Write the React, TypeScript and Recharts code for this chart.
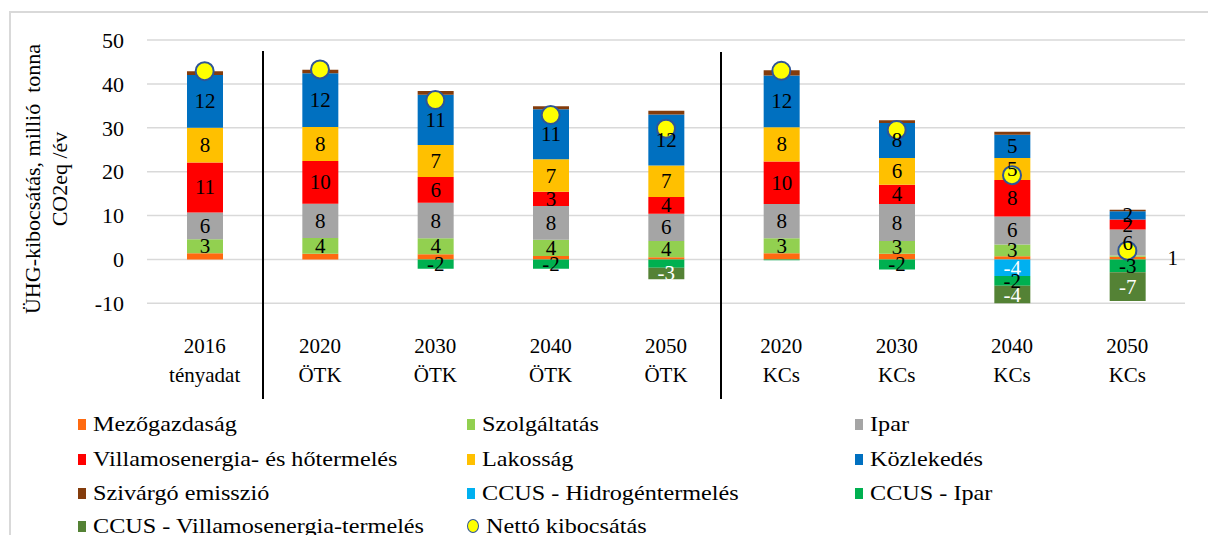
import {
    ComposedChart,
    Bar,
    Line,
    XAxis,
    YAxis,
    CartesianGrid,
    LabelList,
} from 'recharts';

const years = ['2016', '2020', '2030', '2040', '2050', '2020', '2030', '2040', '2050'];
const scenarios = ['tényadat', 'ÖTK', 'ÖTK', 'ÖTK', 'ÖTK', 'KCs', 'KCs', 'KCs', 'KCs'];

const mezogazdasag = [1.4, 1.3, 1.2, 0.8, 0.5, 1.4, 1.3, 0.7, 0.6];
const szolgaltatas = [3.2, 3.6, 3.6, 3.7, 3.7, 3.4, 2.9, 2.7, 0.3];
const ipar = [6.1, 7.8, 8.1, 7.7, 6.2, 7.8, 8.4, 6.4, 5.9];
const villamos = [11.4, 9.7, 5.9, 3.2, 3.8, 9.7, 4.4, 8.3, 2.3];
const lakossag = [7.9, 7.8, 7.3, 7.4, 7.2, 7.8, 6.1, 5.0, 0];
const kozlekedes = [12.0, 12.2, 11.4, 11.4, 11.6, 11.8, 8.0, 5.3, 1.9];
const szivargo = [0.9, 0.8, 0.9, 0.7, 0.9, 1.2, 0.6, 0.7, 0.3];
const ccusHidrogen = [0, 0, 0, 0, 0, 0, 0, -3.8, 0];
const ccusIpar = [0, 0, -2.1, -2.1, -1.9, -0.2, -2.3, -2.2, -2.9];
const ccusVillamos = [0, 0, 0, 0, -2.6, 0, 0, -4.0, -6.6];
const netto = [42.9, 43.3, 36.3, 32.9, 29.8, 43.0, 29.5, 19.2, 2.0];

const yTicks = [-10, 0, 10, 20, 30, 40, 50];

// labels Excel didn't show / moved beside the bar
const hiddenLabels: Record<string, number[]> = { ccusIpar: [4] };
const outsideLabels: Record<string, number[]> = { mezogazdasag: [8] };

const series = [
    { key: 'mezogazdasag', name: 'Mezőgazdaság', color: '#FF6A10', text: '#000', values: mezogazdasag },
    { key: 'szolgaltatas', name: 'Szolgáltatás', color: '#92D050', text: '#000', values: szolgaltatas },
    { key: 'ipar', name: 'Ipar', color: '#A5A5A5', text: '#000', values: ipar },
    { key: 'villamos', name: 'Villamosenergia- és hőtermelés', color: '#FF0000', text: '#000', values: villamos },
    { key: 'lakossag', name: 'Lakosság', color: '#FFC000', text: '#000', values: lakossag },
    { key: 'kozlekedes', name: 'Közlekedés', color: '#0070C0', text: '#000', values: kozlekedes },
    { key: 'szivargo', name: 'Szivárgó emisszió', color: '#843C0C', text: '#000', values: szivargo },
    { key: 'ccusHidrogen', name: 'CCUS - Hidrogéntermelés', color: '#00B0F0', text: '#fff', values: ccusHidrogen },
    { key: 'ccusIpar', name: 'CCUS - Ipar', color: '#00B050', text: '#000', values: ccusIpar },
    { key: 'ccusVillamos', name: 'CCUS - Villamosenergia-termelés', color: '#548235', text: '#fff', values: ccusVillamos },
];

const data = years.map((year, i) => {
    const row: Record<string, any> = { year, scenario: scenarios[i], netto: netto[i] };
    series.forEach((s) => {
        const v = s.values[i];
        const hidden = (hiddenLabels[s.key] ?? []).includes(i);
        const outside = (outsideLabels[s.key] ?? []).includes(i);
        row[s.key] = v;
        row[`${s.key}_lbl`] = !hidden && !outside && Math.abs(v) >= 1.5 ? String(Math.round(v)) : '';
        row[`${s.key}_out`] = outside ? String(Math.round(v)) : '';
    });
    return row;
});

const FONT = '"Liberation Serif", Tinos, "DejaVu Serif", serif';

const centerLabel = (fill: string) => (props: any) => {
    const vb = props.viewBox ?? props;
    if (!vb || props.value === '' || props.value == null) return null;
    return (
        <text
            x={vb.x + vb.width / 2}
            y={vb.y + vb.height / 2}
            dy={7}
            textAnchor="middle"
            fontFamily={FONT}
            fontSize={21}
            fill={fill}
        >
            {props.value}
        </text>
    );
};

const sideLabel = (props: any) => {
    const vb = props.viewBox ?? props;
    if (!vb || props.value === '' || props.value == null) return null;
    return (
        <text x={vb.x + vb.width + 27} y={vb.y + vb.height / 2} dy={7} textAnchor="middle" fontFamily={FONT} fontSize={21} fill="#000">
            {props.value}
        </text>
    );
};

const XTick = ({ x, y, payload }: any) => (
    <g>
        <text x={x} y={y + 50} textAnchor="middle" fontFamily={FONT} fontSize={21} fill="#000">
            {payload.value}
        </text>
        <text x={x} y={y + 79} textAnchor="middle" fontFamily={FONT} fontSize={21} fill="#000">
            {scenarios[payload.index]}
        </text>
    </g>
);

const YTitle = () => (
    <g transform="translate(0,179) rotate(-90)">
        <text textAnchor="middle" fontFamily={FONT} fontSize={22} fill="#000" style={{ whiteSpace: 'pre' }}>
            <tspan x={0} y={40}>ÜHG-kibocsátás, millió  tonna</tspan>
            <tspan x={0} y={67}>CO2eq /év</tspan>
        </text>
    </g>
);

const legendCols = [78, 467, 855];
const legendRows = [424, 459, 493, 526];

export default function App() {
    const legendItems = [
        ...series.map((s) => ({ name: s.name, color: s.color, circle: false })),
        { name: 'Nettó kibocsátás', color: '#FFFF00', circle: true },
    ];

    return (
        <div
            style={{
                position: 'absolute',
                left: 0,
                top: 0,
                width: 1208,
                height: 535,
                background: '#fff',
                overflow: 'hidden',
                fontFamily: FONT,
            }}
        >
            <div
                style={{
                    position: 'absolute',
                    left: 9,
                    top: 11,
                    width: 1300,
                    height: 600,
                    border: '2px solid #d9d9d9',
                }}
            />
            <ComposedChart
                width={1208}
                height={410}
                data={data}
                stackOffset="sign"
                margin={{ top: 40, right: 23, bottom: 0, left: 0 }}
                style={{ position: 'absolute', left: 0, top: 0 }}
            >
                <CartesianGrid vertical={false} stroke="#d9d9d9" strokeWidth={1.5} />
                <XAxis
                    dataKey="year"
                    axisLine={false}
                    tickLine={false}
                    tickSize={0}
                    tickMargin={0}
                    height={106.7}
                    interval={0}
                    tick={<XTick />}
                />
                <YAxis
                    domain={[-10, 50]}
                    ticks={yTicks}
                    width={147}
                    axisLine={false}
                    tickLine={false}
                    tickSize={0}
                    tickMargin={23}
                    tick={{ fill: '#000', fontSize: 22, fontFamily: FONT }}
                    label={{ content: () => <YTitle /> }}
                />
                {series.map((s) => (
                    <Bar
                        key={s.key}
                        dataKey={s.key}
                        name={s.name}
                        stackId="a"
                        fill={s.color}
                        barSize={36}
                        isAnimationActive={false}
                    >
                        <LabelList dataKey={`${s.key}_lbl`} content={centerLabel(s.text)} />
                        <LabelList dataKey={`${s.key}_out`} content={sideLabel} />
                    </Bar>
                ))}
                <Line
                    dataKey="netto"
                    name="Nettó kibocsátás"
                    stroke="none"
                    dot={{ r: 9, fill: '#FFFF00', stroke: '#2F5597', strokeWidth: 2 }}
                    activeDot={false}
                    isAnimationActive={false}
                />
            </ComposedChart>

            {/* scenario separators */}
            <div style={{ position: 'absolute', left: 262, top: 51, width: 1.5, height: 348, background: '#000' }} />
            <div style={{ position: 'absolute', left: 720, top: 52, width: 1.5, height: 347, background: '#000' }} />

            {legendItems.map((item, i) => {
                const col = i % 3;
                const row = Math.floor(i / 3);
                return (
                    <div
                        key={item.name}
                        style={{
                            position: 'absolute',
                            left: legendCols[col],
                            top: legendRows[row] - 14,
                            height: 28,
                            display: 'flex',
                            alignItems: 'center',
                            fontSize: 22,
                            color: '#000',
                            whiteSpace: 'nowrap',
                        }}
                    >
                        <span
                            style={{
                                display: 'inline-block',
                                width: item.circle ? 10 : 8,
                                height: item.circle ? 12 : 11,
                                borderRadius: item.circle ? '50%' : 0,
                                background: item.color,
                                border: item.circle ? '1px solid #2F5597' : 'none',
                                marginRight: 7,
                                flexShrink: 0,
                            }}
                        />
                        <span style={{ display: 'inline-block', transform: 'scaleX(1.1)', transformOrigin: 'left center' }}>
                            {item.name}
                        </span>
                    </div>
                );
            })}
        </div>
    );
}
